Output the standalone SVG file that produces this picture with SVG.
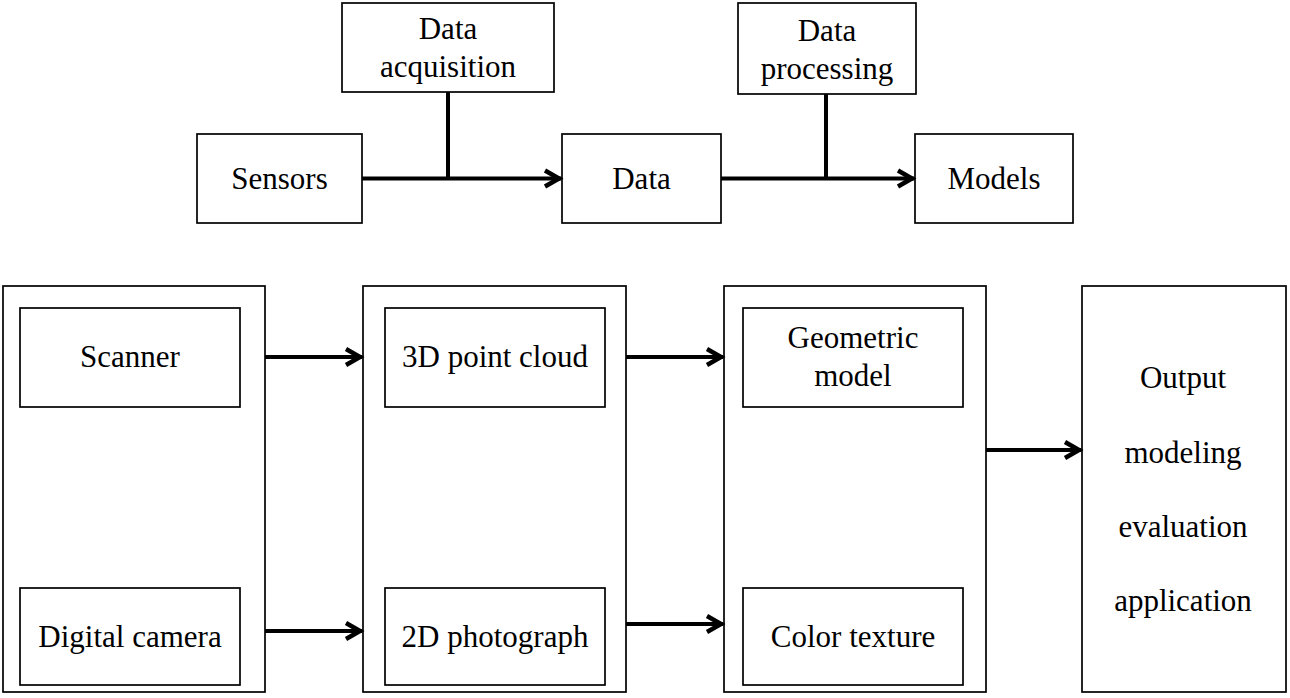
<svg xmlns="http://www.w3.org/2000/svg" width="1290" height="698" viewBox="0 0 1290 698">
<style>
.box{fill:#fff;stroke:#000;stroke-width:1.7}
.t{font-family:"Liberation Serif","Times New Roman",serif;font-size:31px;fill:#000;text-anchor:middle}
.ln{fill:none;stroke:#000;stroke-width:4}
.ar{fill:none;stroke:#000;stroke-width:4;marker-end:url(#ah)}
</style>
<defs>
<marker id="ah" markerUnits="userSpaceOnUse" markerWidth="24" markerHeight="24" refX="17" refY="8" orient="auto" overflow="visible">
<path d="M1,0 L15,8 L1,16" fill="none" stroke="#000" stroke-width="4.5" stroke-linejoin="miter"/>
</marker>
</defs>
<rect width="1290" height="698" fill="#fff"/>
<g id="sensors"><rect class="box" x="197" y="134" width="165" height="89"/><text class="t" x="279.5" y="189">Sensors</text></g>
<g id="data-acquisition"><rect class="box" x="342" y="3" width="212" height="89"/><text class="t" x="448" y="39">Data</text><text class="t" x="448" y="77">acquisition</text></g>
<g id="data"><rect class="box" x="562" y="134" width="159" height="89"/><text class="t" x="641.5" y="189">Data</text></g>
<g id="data-processing"><rect class="box" x="738" y="3" width="178" height="91"/><text class="t" x="827" y="41">Data</text><text class="t" x="827" y="79">processing</text></g>
<g id="models"><rect class="box" x="915" y="134" width="158" height="89"/><text class="t" x="994" y="189">Models</text></g>
<g id="group-acquire"><rect class="box" x="3" y="286" width="262" height="406"/></g>
<g id="scanner"><rect class="box" x="20" y="308" width="220" height="99"/><text class="t" x="130" y="367">Scanner</text></g>
<g id="digital-camera"><rect class="box" x="20" y="588" width="220" height="97"/><text class="t" x="130" y="647">Digital camera</text></g>
<g id="group-data"><rect class="box" x="363" y="286" width="263" height="406"/></g>
<g id="point-cloud"><rect class="box" x="385" y="308" width="220" height="99"/><text class="t" x="495" y="367">3D point cloud</text></g>
<g id="photograph"><rect class="box" x="385" y="588" width="220" height="97"/><text class="t" x="495" y="647">2D photograph</text></g>
<g id="group-model"><rect class="box" x="724" y="286" width="262" height="406"/></g>
<g id="geometric-model"><rect class="box" x="743" y="308" width="220" height="99"/><text class="t" x="853" y="348">Geometric</text><text class="t" x="853" y="386">model</text></g>
<g id="color-texture"><rect class="box" x="743" y="588" width="220" height="97"/><text class="t" x="853" y="647">Color texture</text></g>
<g id="output"><rect class="box" x="1082" y="286" width="204" height="406"/><text class="t" x="1183" y="388">Output</text><text class="t" x="1183" y="463">modeling</text><text class="t" x="1183" y="537">evaluation</text><text class="t" x="1183" y="611">application</text></g>
<g id="connectors">
<line class="ar" x1="362" y1="178.5" x2="561" y2="178.5"/>
<line class="ln" x1="448" y1="92" x2="448" y2="178.5"/>
<line class="ar" x1="721" y1="178.5" x2="914" y2="178.5"/>
<line class="ln" x1="826" y1="94" x2="826" y2="178.5"/>
<line class="ar" x1="265" y1="357" x2="362" y2="357"/>
<line class="ar" x1="265" y1="631" x2="362" y2="631"/>
<line class="ar" x1="626" y1="357" x2="723" y2="357"/>
<line class="ar" x1="626" y1="624" x2="723" y2="624"/>
<line class="ar" x1="986" y1="450" x2="1081" y2="450"/>
</g>
</svg>
